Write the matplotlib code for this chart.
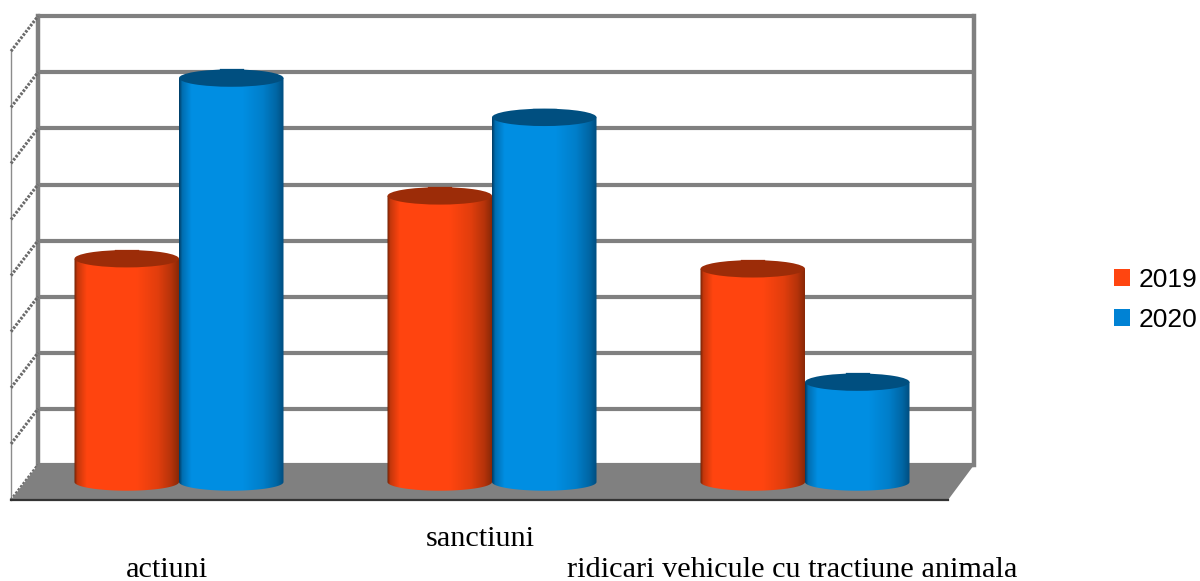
import numpy as np
import matplotlib
matplotlib.use("Agg")
import matplotlib.pyplot as plt
from matplotlib.patches import Ellipse, Patch, PathPatch, Polygon
from matplotlib.path import Path

categories = ["actiuni", "sanctiuni", "ridicari vehicule cu tractiune animala"]
years = ["2019", "2020"]
values_2019 = [3.98, 5.1, 3.8]
values_2020 = [7.2, 6.5, 1.78]
grid_levels = [0, 1, 2, 3, 4, 5, 6, 7, 8]

W, H = 1200, 581
# one category step is 313 px, one value unit 56.1 px, origin at the base of the middle of group one
STEP = 313.0
UNIT = 56.1
X0 = 179.0
Y0 = 482.0


def dx(px):
    return (px - X0) / STEP


def dy(py):
    return (Y0 - py) / UNIT


fig = plt.figure(figsize=(W / 100, H / 100), dpi=100)
ax = fig.add_axes([0, 0, 1, 1])
ax.axis("off")

wall_left, wall_right = dx(38), dx(974)
front_left, front_right = dx(11), dx(948)
back_zero = dy(465)
front_zero = dy(500)
depth = back_zero - front_zero
wall_top = back_zero + grid_levels[-1]

# back wall grid
for lev in grid_levels:
    y = back_zero + lev
    ax.plot([wall_left, wall_right], [y, y], color="#808080", lw=3, zorder=2, solid_capstyle="butt")
ax.plot([wall_left, wall_left], [back_zero, wall_top], color="#808080", lw=3.2, zorder=2)
ax.plot([wall_right, wall_right], [back_zero, wall_top], color="#808080", lw=3.2, zorder=2)

# left side wall
ax.plot([front_left, front_left], [front_zero, wall_top - depth], color="#8c8c8c", lw=1, zorder=2)
for lev in grid_levels:
    y = back_zero + lev
    ax.plot([front_left, wall_left], [y - depth, y], color="#6a6a6a", lw=2.2, ls=(0, (0.8, 0.5)), zorder=2)

# floor
ax.add_patch(Polygon([[wall_left, back_zero], [wall_right, back_zero], [front_right, front_zero], [front_left, front_zero]],
                     closed=True, facecolor="#808080", edgecolor="none", zorder=3))
ax.plot([front_left, front_right], [front_zero, front_zero], color="#333333", lw=1.6, zorder=3)


def shade(dark, main):
    # short dark left edge, wide bright middle, slow fade on the right
    stops = [0.0, 0.03, 0.12, 0.6, 0.8, 0.93, 1.0]
    weights = [0.0, 0.6, 1.0, 1.0, 0.8, 0.5, 0.2]
    t = np.linspace(0, 1, 200)
    w = np.interp(t, stops, weights)[:, None]
    return (np.array(dark) * (1 - w) + np.array(main) * w)[None, :, :]


def cylinder(center, value, width, dark, main, top_color):
    half_h = 8.7 / UNIT
    left, right = center - width / 2, center + width / 2
    ang = np.linspace(np.pi, 2 * np.pi, 60)
    xs = center + width / 2 * np.cos(ang)
    ys = half_h * np.sin(ang)
    verts = list(zip(xs, ys)) + [(right, value), (left, value), (left, 0)]
    body = Path(verts)
    patch = PathPatch(body, facecolor="none", edgecolor="none", zorder=4)
    ax.add_patch(patch)
    im = ax.imshow(shade(dark, main), extent=[left, right, -half_h, value], aspect="auto", zorder=4)
    im.set_clip_path(patch)
    ax.add_patch(Ellipse((center, value), width, 2 * half_h, facecolor=top_color, edgecolor="none", zorder=5))
    ax.plot([center - width * 0.11, center + width * 0.11], [value + half_h, value + half_h],
            color=top_color, lw=0.9, zorder=5)


bar_w = 104.5 / STEP
orange_dark, orange_main, orange_top = (0.42, 0.13, 0.02), (1.0, 0.27, 0.06), "#9c2c08"
blue_dark, blue_main, blue_top = (0.0, 0.24, 0.40), (0.0, 0.56, 0.89), "#004f80"
for i in range(len(categories)):
    cylinder(i - bar_w / 2, values_2019[i], bar_w, orange_dark, orange_main, orange_top)
    cylinder(i + bar_w / 2, values_2020[i], bar_w, blue_dark, blue_main, blue_top)

# category labels, the middle one is staggered upward
label_x = [dx(167), dx(480), dx(792)]
label_y = [dy(570), dy(539.5), dy(570)]
for i, name in enumerate(categories):
    ax.text(label_x[i], label_y[i], name, family="Liberation Serif", fontsize=21.8,
            ha="center", va="center", color="black", zorder=6)

ax.set_xlim(dx(0), dx(W))
ax.set_ylim(dy(H), dy(0))

handles = [Patch(facecolor="#ff4510", edgecolor="none"), Patch(facecolor="#0082d4", edgecolor="none")]
fig.legend(handles, years, loc="center left", bbox_to_anchor=(1103 / W, 1 - 300 / H), frameon=False,
           prop={"family": "Liberation Sans", "size": 19}, handlelength=0.62, handleheight=0.62,
           handletextpad=0.33, labelspacing=0.6, borderpad=0, borderaxespad=0.4)

fig.savefig("out.png", dpi=100)
